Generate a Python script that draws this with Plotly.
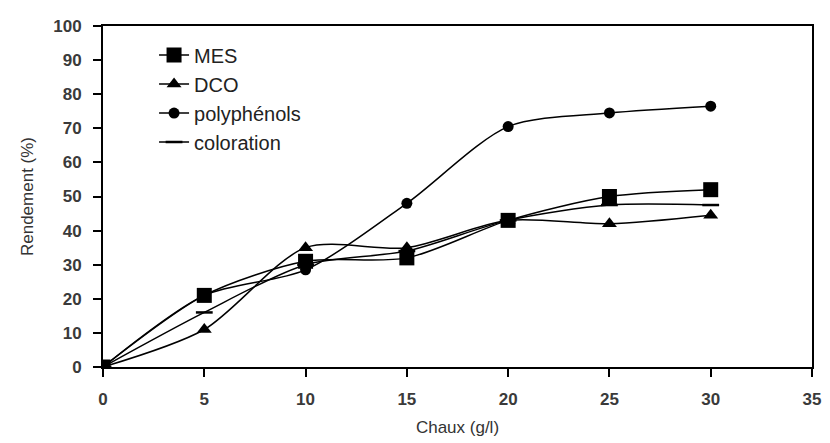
import plotly.graph_objects as go

chaux = [0, 5, 10, 15, 20, 25, 30]
mes = [0, 21, 31, 32, 43, 50, 52]
dco = [0, 11, 35, 35, 43, 42, 44.5]
polyphenols = [0, 21, 28.5, 48, 70.5, 74.5, 76.5]
coloration = [0, 16, 30, 34, 43, 47.5, 47.5]

names = ["MES", "DCO", "polyphénols", "coloration"]
series = [mes, dco, polyphenols, coloration]
symbols = ["square", "triangle-up", "circle", "line-ew"]
sizes = [15, 13, 11, 12]

fig = go.Figure()
for n, s, sym, sz in zip(names, series, symbols, sizes):
    fig.add_trace(go.Scatter(
        x=chaux, y=s, name=n, mode="lines+markers",
        line=dict(color="black", width=1.5, shape="spline", smoothing=0.8),
        marker=dict(symbol=sym, size=sz, color="black",
                    line=dict(color="black", width=2.5 if sym == "line-ew" else 0)),
    ))

font = "Liberation Sans, Arial, sans-serif"
tickfont = dict(family=font, size=17, color="#3a3a3a", weight="bold")
fig.update_layout(
    width=822, height=435,
    margin=dict(l=95, r=9, t=12, b=76),
    paper_bgcolor="white", plot_bgcolor="white",
    font=dict(family=font, color="#222", size=13),
    showlegend=True,
    legend=dict(x=0.072, y=0.972, xanchor="left", yanchor="top",
                bgcolor="rgba(0,0,0,0)", font=dict(size=20, color="#222"),
                tracegroupgap=0),
    xaxis=dict(range=[0, 35], dtick=5, showgrid=False, zeroline=False,
               showline=True, linecolor="black", linewidth=2, mirror=True,
               ticks="outside", ticklen=8, tickcolor="black", tickwidth=2,
               tickfont=tickfont, ticklabelstandoff=8,
               title=dict(text="Chaux (g/l)", font=dict(size=17, color="#333"), standoff=13)),
    yaxis=dict(range=[0, 100], dtick=10, showgrid=False, zeroline=False,
               showline=True, linecolor="black", linewidth=2, mirror=True,
               ticks="outside", ticklen=8, tickcolor="black", tickwidth=2,
               tickfont=tickfont, ticklabelstandoff=8,
               title=dict(text="Rendement (%)", font=dict(size=17, color="#333"), standoff=15)),
)
fig.write_html("out.html")
